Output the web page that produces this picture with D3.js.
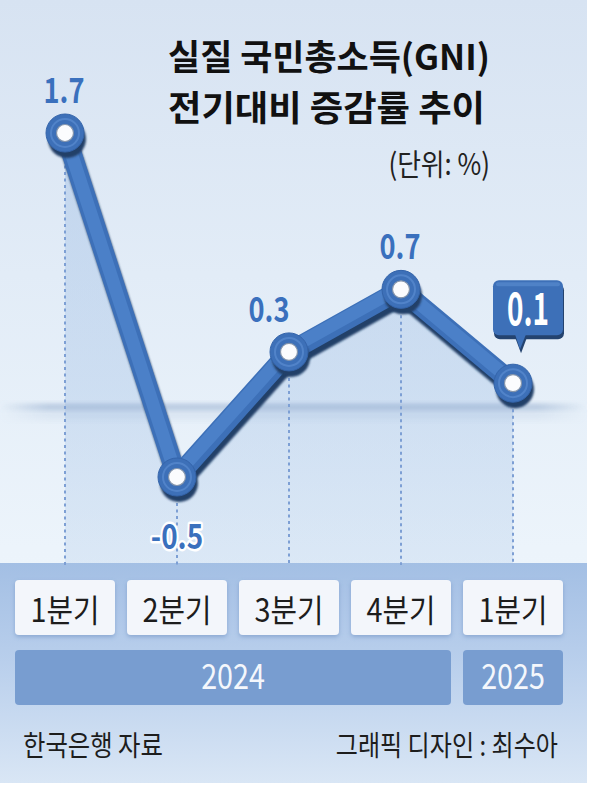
<!DOCTYPE html>
<html><head><meta charset="utf-8">
<script src="https://cdn.jsdelivr.net/npm/d3@7"></script>
<style>body{margin:0;background:#fff}svg{display:block}</style>
</head><body><svg id="c" width="593" height="790"></svg>
<script>
// ---- data ----
const quarters = ["1분기", "2분기", "3분기", "4분기", "1분기"];
const years = ["2024", "2024", "2024", "2024", "2025"];
const values = [1.7, -0.5, 0.3, 0.7, 0.1];
const valueLabels = ["1.7", "-0.5", "0.3", "0.7", "0.1"];
const titleLines = ["실질 국민총소득(GNI)", "전기대비 증감률 추이"];
const unitLabel = "(단위: %)";
const sourceLabel = "한국은행 자료";
const creditLabel = "그래픽 디자인 : 최수아";
// style: where each value label sits
const labelPlacement = ["above", "below", "upperLeft", "above", "callout"];

// ---- layout ----
const W = 587, H = 783;
const plotBottom = 563;
const KR = "'Noto Sans CJK KR','Noto Sans',sans-serif";
const svg = d3.select("#c");
const defs = svg.append("defs");

const x = d3.scaleBand().domain(d3.range(values.length)).range([15, 563]).paddingInner(12 / 112).paddingOuter(0);
const cx = i => x(i) + x.bandwidth() / 2;
const y = d3.scaleLinear().domain([-0.5, 1.7]).range([477, 133]);

function vGrad(id, stops) {
  const g = defs.append("linearGradient").attr("id", id).attr("x1", 0).attr("y1", 0).attr("x2", 0).attr("y2", 1);
  stops.forEach(s => g.append("stop").attr("offset", s[0]).attr("stop-color", s[1]).attr("stop-opacity", s[2] == null ? 1 : s[2]));
}
function hGrad(id, stops) {
  const g = defs.append("linearGradient").attr("id", id).attr("x1", 0).attr("y1", 0).attr("x2", 1).attr("y2", 0);
  stops.forEach(s => g.append("stop").attr("offset", s[0]).attr("stop-color", s[1]).attr("stop-opacity", s[2] == null ? 1 : s[2]));
}
vGrad("bg", [[0, "#d7e3f2"], [0.35, "#e2ecf7"], [0.7, "#ecf4fb"], [1, "#eff7fd"]]);
vGrad("bottomBand", [[0, "#a3bfe4"], [0.45, "#b9cfec"], [1, "#d9e6f5"]]);
vGrad("areaGrad", [[0, "#9dbde3", 0.42], [0.6, "#a5c2e6", 0.38], [1, "#b2cbea", 0.3]]);
hGrad("bandGrad", [[0, "#8aa5c9", 0], [0.08, "#8aa5c9", 0.5], [0.92, "#8aa5c9", 0.5], [1, "#8aa5c9", 0]]);

const blur = (id, sd) => defs.append("filter").attr("id", id).attr("x", "-20%").attr("y", "-50%").attr("width", "140%").attr("height", "200%")
  .append("feGaussianBlur").attr("stdDeviation", sd);
blur("b1", 1.2); blur("b2", 2.5); blur("b3", 4);
const ds = defs.append("filter").attr("id", "boxShadow").attr("x", "-10%").attr("y", "-20%").attr("width", "120%").attr("height", "150%");
ds.append("feDropShadow").attr("dx", 0).attr("dy", 2).attr("stdDeviation", 2).attr("flood-color", "#5b7fb5").attr("flood-opacity", 0.45);

// background panel
svg.append("rect").attr("width", W).attr("height", H).attr("fill", "url(#bg)");
svg.append("rect").attr("x", 0).attr("y", plotBottom).attr("width", W).attr("height", H - plotBottom).attr("fill", "url(#bottomBand)");

// area under line
const area = d3.area().x((d, i) => cx(i)).y0(plotBottom).y1(d => y(d));
svg.append("path").datum(values).attr("d", area).attr("fill", "url(#areaGrad)");

// zero floor band
svg.append("rect").attr("x", 0).attr("y", y(0) + 5).attr("width", W).attr("height", 6)
  .attr("fill", "url(#bandGrad)").attr("filter", "url(#b2)");
svg.append("rect").attr("x", 0).attr("y", y(0) + 10).attr("width", W).attr("height", 10)
  .attr("fill", "url(#bandGrad)").attr("opacity", 0.35).attr("filter", "url(#b3)");

// dotted guides
svg.append("g").selectAll("line").data(values).join("line")
  .attr("x1", (d, i) => cx(i)).attr("x2", (d, i) => cx(i))
  .attr("y1", d => y(d)).attr("y2", plotBottom + 2)
  .attr("stroke", "#7d9fd4").attr("stroke-width", 2).attr("stroke-dasharray", "3,3.5");

// line with 3D look
const line = d3.line().x((d, i) => cx(i)).y(d => y(d));
svg.append("path").datum(values).attr("d", line).attr("transform", "translate(2,6)")
  .attr("fill", "none").attr("stroke", "#233f68").attr("stroke-width", 20).attr("stroke-linejoin", "round").attr("stroke-linecap", "round").attr("filter", "url(#b1)");
svg.append("path").datum(values).attr("d", line)
  .attr("fill", "none").attr("stroke", "#3d70b8").attr("stroke-width", 20).attr("stroke-linejoin", "round").attr("stroke-linecap", "round");
svg.append("path").datum(values).attr("d", line).attr("transform", "translate(-1,-2)")
  .attr("fill", "none").attr("stroke", "#4b80c8").attr("stroke-width", 13).attr("stroke-linejoin", "round").attr("stroke-linecap", "round");

// point rings
const pts = svg.append("g").selectAll("g").data(values).join("g")
  .attr("transform", (d, i) => `translate(${cx(i)},${y(d)})`);
pts.append("circle").attr("cx", 2).attr("cy", 6).attr("r", 19).attr("fill", "#233f68").attr("filter", "url(#b1)");
pts.append("circle").attr("r", 19).attr("fill", "#3d70b8").attr("stroke", "#3464aa").attr("stroke-width", 1);
pts.append("circle").attr("r", 14).attr("fill", "none").attr("stroke", "#5a8cd0").attr("stroke-width", 2).attr("opacity", 0.7);
pts.append("circle").attr("r", 8.5).attr("fill", "#fbfcfe").attr("stroke", "#8595ab").attr("stroke-width", 1.2);

// value labels
function sText(g, tx, ty, txt, sx, anchor) {
  return g.append("text").attr("transform", `translate(${tx},${ty}) scale(${sx},1)`)
    .attr("text-anchor", anchor).text(txt);
}
const lblG = svg.append("g").attr("font-family", KR).attr("font-weight", 700).attr("font-size", 34).attr("fill", "#3a70bd");
values.forEach((v, i) => {
  const px = cx(i), py = y(v), p = labelPlacement[i];
  if (p === "above") sText(lblG, px - 1, py - 30, valueLabels[i], 0.8, "middle");
  else if (p === "below") {
    sText(lblG, px, py + 72, valueLabels[i], 0.82, "middle")
      .attr("stroke", "#ffffff").attr("stroke-width", 5).attr("paint-order", "stroke").attr("stroke-linejoin", "round");
  }
  else if (p === "upperLeft") sText(lblG, px - 20, py - 30, valueLabels[i], 0.8, "middle");
  else if (p === "callout") {
    const bx = px - 20, by = py - 103, bw = 70, bh = 55;
    const cg = svg.append("g");
    cg.append("rect").attr("x", bx + 1).attr("y", by + 4).attr("width", bw).attr("height", bh).attr("rx", 6).attr("fill", "#24436f");
    cg.append("path").attr("d", `M${px + 2},${by + bh + 2} L${px + 14},${by + bh + 2} L${px + 8},${by + bh + 18} Z`).attr("fill", "#24436f");
    cg.append("rect").attr("x", bx).attr("y", by).attr("width", bw).attr("height", bh).attr("rx", 6).attr("fill", "#3d70b8");
    cg.append("path").attr("d", `M${px + 2},${by + bh - 1} L${px + 13},${by + bh - 1} L${px + 7},${by + bh + 14} Z`).attr("fill", "#3d70b8");
    cg.append("rect").attr("x", bx + 3).attr("y", by + 2).attr("width", bw - 6).attr("height", 4).attr("rx", 2).attr("fill", "#5b8dd0").attr("opacity", 0.6);
    sText(cg, bx + bw / 2, by + 45, valueLabels[i], 0.62, "middle")
      .attr("font-family", KR).attr("font-weight", 700).attr("font-size", 45).attr("fill", "#ffffff");
  }
});

// title
const tg = svg.append("g").attr("font-family", KR).attr("fill", "#111");
tg.append("text").attr("x", 168).attr("y", 70).attr("font-size", 35).attr("font-weight", 700)
  .attr("textLength", 322).attr("lengthAdjust", "spacingAndGlyphs").text(titleLines[0]);
tg.append("text").attr("x", 168).attr("y", 121).attr("font-size", 35).attr("font-weight", 700)
  .attr("textLength", 317).attr("lengthAdjust", "spacingAndGlyphs").text(titleLines[1]);
sText(tg, 490, 175, unitLabel, 0.86, "end").attr("font-size", 30).attr("fill", "#222");

// category boxes
const catG = svg.append("g");
catG.selectAll("rect").data(quarters).join("rect")
  .attr("x", (d, i) => x(i)).attr("y", 580).attr("width", x.bandwidth()).attr("height", 55).attr("rx", 4)
  .attr("fill", "#f3f6fb").attr("filter", "url(#boxShadow)");
quarters.forEach((q, i) => sText(catG, cx(i), 622, q, 0.9, "middle")
  .attr("font-family", KR).attr("font-size", 32).attr("fill", "#1d1d1d"));

// year bars
const groups = [];
years.forEach((yr, i) => {
  const last = groups[groups.length - 1];
  if (last && last.year === yr) last.end = i; else groups.push({ year: yr, start: i, end: i });
});
const yg = svg.append("g");
groups.forEach(g => {
  const x0 = x(g.start), x1 = x(g.end) + x.bandwidth();
  yg.append("rect").attr("x", x0).attr("y", 650).attr("width", x1 - x0).attr("height", 55).attr("rx", 4).attr("fill", "#789dd0");
  sText(yg, (x0 + x1) / 2, 689, g.year, 0.82, "middle").attr("font-family", KR).attr("font-size", 35).attr("fill", "#f4f7fc");
});

// footer
const fg = svg.append("g").attr("font-family", KR).attr("font-size", 28).attr("fill", "#1d1d1d");
sText(fg, 23, 756, sourceLabel, 0.87, "start");
sText(fg, 558, 756, creditLabel, 0.86, "end");
</script></body></html>
